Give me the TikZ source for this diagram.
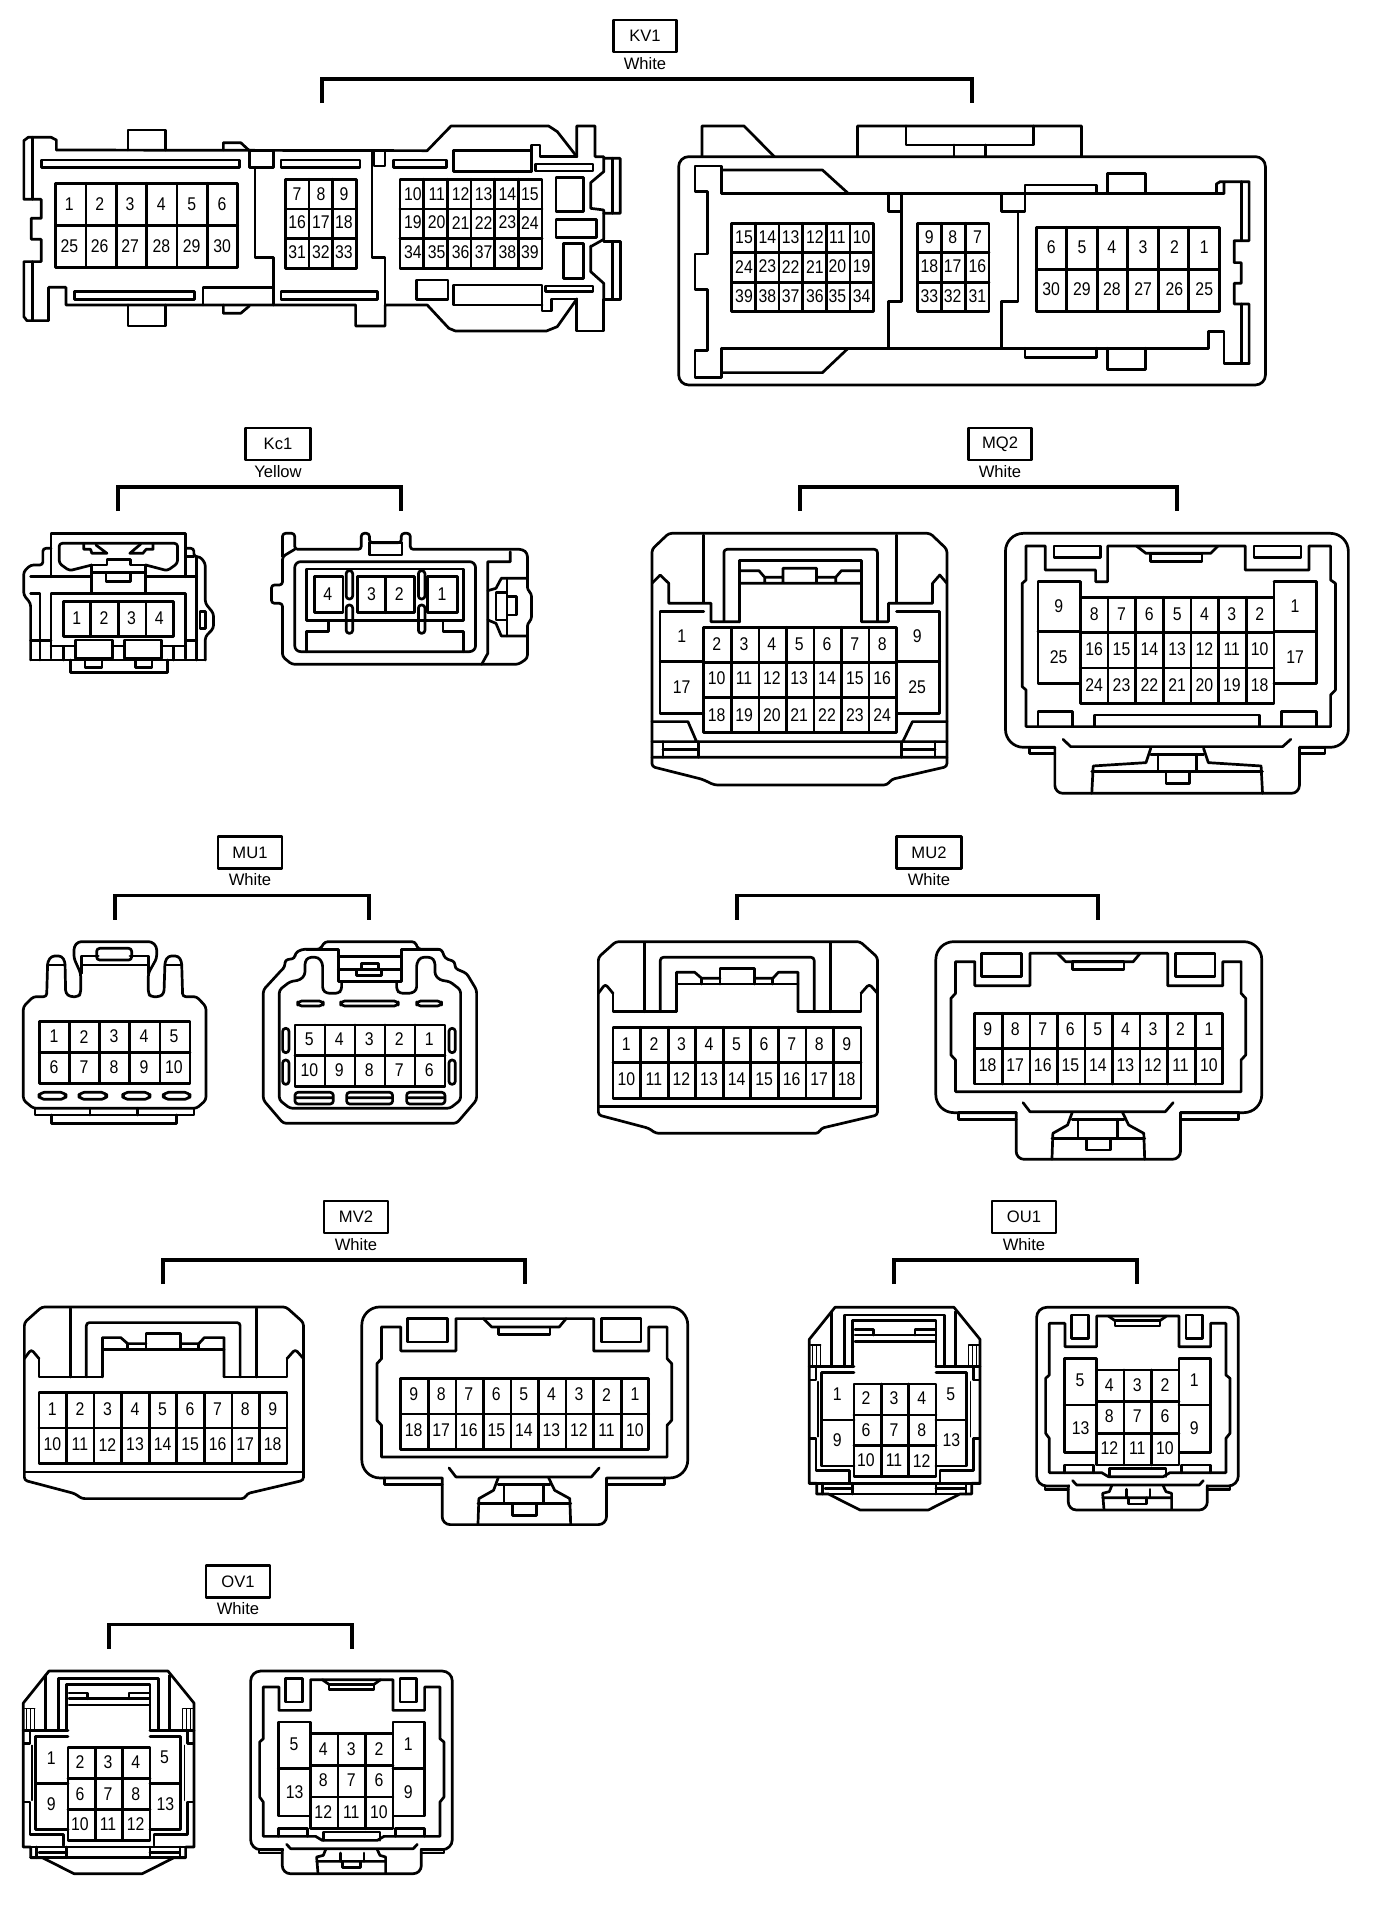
\documentclass[tikz,border=0pt]{standalone}
\usepackage{fontspec}
\setmainfont{Liberation Sans}
\newfontfamily\pinfont[FakeStretch=0.86]{Liberation Sans}
\usetikzlibrary{calc}
\tikzset{
  plan/.style={x=0.5pt,y=-0.5pt,line width=1.35pt,line join=round,line cap=round},
  zoomed/.style n args={4}{shift={(#1,#2)},xscale=#3,yscale=#4},
  pinlab/.style={inner sep=0pt,font=\pinfont\fontsize{9.2pt}{10pt}\selectfont},
  lbl/.style={draw,line width=1.35pt,inner sep=0pt,font=\fontsize{8.3pt}{10pt}\selectfont,anchor=center},
  colr/.style={inner sep=0pt,font=\fontsize{8.3pt}{10pt}\selectfont},
  brk/.style={line width=1.7pt,line join=miter,line cap=butt},
  fine/.style={line width=0.7pt},
  rd/.style={rounded corners=4pt},
  rs/.style={rounded corners=1.5pt},
  rl/.style={rounded corners=5pt},
  rx/.style={rounded corners=9pt}
}
\newcommand{\gridb}[6]{%
  \draw (#1,#2) rectangle (#3,#4);
  \foreach \iq in {1,...,#5}{\ifnum\iq<#5\relax\draw ({#1+(#3-#1)*\iq/#5},#2) -- ({#1+(#3-#1)*\iq/#5},#4);\fi}
  \foreach \iq in {1,...,#6}{\ifnum\iq<#6\relax\draw (#1,{#2+(#4-#2)*\iq/#6}) -- (#3,{#2+(#4-#2)*\iq/#6});\fi}
}
\newcommand{\pinrow}[2]{\foreach \xq/\tq in {#2}{\node[pinlab] (pin\tq) at (\xq,#1) {\tq};}}
\newcommand{\hdr}[7]{% name, colour, centre x, box centre y, box width, bracket left, bracket right
  \node[lbl,minimum width=#5*0.5pt,minimum height=16pt] (lbl#1) at (#3,#4) {#1};
  \node[colr] (col#1) at (#3,{#4+27.5}) {#2};
  \coordinate (bl#1) at (#6,{#4+67});
  \coordinate (br#1) at (#7,{#4+67});
  \draw[brk] (bl#1) -- ++(0,-24) -- ($(br#1)+(0,-24)$) -- (br#1);
}
% nine-way plug (face with latch arch)
\newcommand{\nineL}{%
  \draw[rs] (78,335) -- (610,335) -- (648,382) -- (648,855) -- (525,895) -- (520,910) -- (165,910) -- (150,895) -- (40,855) -- (40,382) -- cycle;
  \draw[rs] (140,545) -- (140,340) ; \draw[rs] (545,545) -- (545,340);
  \draw[rs] (175,545) -- (175,382) -- (510,382) -- (510,545);
  \draw (210,545) -- (210,427) -- (250,427) -- (265,445) -- (305,445);
  \draw (305,462) -- (305,415) -- (380,415) -- (380,462);
  \draw (380,445) -- (420,445) -- (432,427) -- (475,427) -- (475,545);
  \draw (210,462) -- (475,462) (265,445) -- (265,462) (420,445) -- (420,462);
  \draw (72,490) -- (72,545) -- (210,545) (475,545) -- (612,545) -- (612,490);
  \draw[rs] (40,490) -- (55,462) -- (72,490) (612,490) -- (630,462) -- (648,490);
  \gridb{72}{592}{612}{805}{9}{2}
  \draw (40,830) -- (648,830);
  \pinrow{642}{101/1,161/2,221/3,281/4,341/5,401/6,461/7,521/8,581/9}
  \pinrow{748}{101/10,161/11,221/12,281/13,341/14,401/15,461/16,521/17,581/18}
}
\newcommand{\nineR}{%
  \draw[rx] (775,600) -- (775,335) -- (1485,335) -- (1485,848) -- (775,848) -- cycle;
  \draw[fill=white,draw=white,line width=0pt] (950,840) rectangle (1308,856);
  \draw (825,848) -- (950,848) (1308,848) -- (1435,848);
  \draw (825,848) -- (825,868) -- (950,868) (1435,848) -- (1435,868) -- (1308,868);
  \draw[rd] (950,848) -- (950,988) -- (1308,988) -- (1308,848);
  \draw (818,395) -- (860,395) -- (860,467) -- (980,467) -- (980,370) -- (1280,370) -- (1280,467) -- (1400,467) -- (1400,395) -- (1440,395) -- (1440,490) -- (1450,505) -- (1450,675) -- (1440,690) -- (1440,785) -- (818,785) -- (818,690) -- (808,675) -- (808,505) -- (818,490) -- cycle;
  \draw (1040,370) -- (1058,395) -- (1205,395) -- (1220,370);
  \draw (875,370) rectangle (962,440) (1297,370) rectangle (1383,440) (1072,395) rectangle (1185,418);
  \gridb{860}{550}{1400}{762}{9}{2}
  \pinrow{598}{888/9,948/8,1008/7,1068/6,1128/5,1188/4,1248/3,1308/2,1370/1}
  \pinrow{705}{888/18,948/17,1008/16,1068/15,1128/14,1188/13,1248/12,1308/11,1370/10}
  \draw (965,818) -- (980,845) -- (1275,845) -- (1292,818);
  \draw (1072,848) -- (1062,885) -- (1030,910) -- (1028,988) (1182,848) -- (1195,885) -- (1228,910) -- (1230,988);
  \draw (1028,925) -- (1230,925) (1085,868) -- (1085,925) (1170,868) -- (1170,925) (1072,868) -- (1185,868);
  \draw (1103,925) rectangle (1155,960);
}
% thirteen-way plug
\newcommand{\thirtL}{%
  \draw (165,322) -- (522,322) -- (600,418) -- (600,850) -- (575,850) -- (575,882) -- (540,882) -- (445,930) -- (240,930) -- (145,882) -- (110,882) -- (110,850) -- (88,850) -- (88,418) -- cycle;
  \draw (155,335) -- (155,500) (527,335) -- (527,500);
  \draw (193,500) -- (193,345) -- (493,345) -- (493,500);
  \draw (218,500) -- (218,362) -- (468,362) -- (468,500);
  \draw (225,388) -- (280,388) -- (280,405) (465,388) -- (405,388) -- (405,405);
  \draw (225,405) -- (465,405) (225,424) -- (465,424);
  \draw[fine] (98,435) -- (98,500) (110,435) -- (110,500) (122,435) -- (122,500) (566,435) -- (566,500) (578,435) -- (578,500) (590,435) -- (590,500) (92,435) -- (122,435) (566,435) -- (596,435);
  \draw (88,500) -- (222,500) (468,500) -- (600,500);
  \draw (125,518) -- (222,518) (125,518) -- (125,798) -- (222,798) (125,660) -- (222,660);
  \draw (468,518) -- (560,518) -- (560,798) -- (468,798) (468,660) -- (560,660);
  \draw[fine] (114,545) -- (114,710) (572,545) -- (572,710);
  \draw (90,540) -- (108,540) -- (108,505) (90,715) -- (108,715) -- (108,812) -- (208,812) -- (208,845);
  \draw (598,540) -- (580,540) -- (580,505) (598,715) -- (580,715) -- (580,812) -- (480,812) -- (480,845);
  \gridb{222}{552}{468}{830}{3}{3}
  \pinrow{595}{258/2,342/3,425/4}
  \pinrow{690}{258/6,342/7,425/8}
  \pinrow{782}{258/10,342/11,425/12}
  \pinrow{582}{172/1,512/5}
  \pinrow{722}{172/9,514/13}
  \draw (88,850) -- (600,850) (110,882) -- (575,882);
  \draw (128,850) -- (128,882) (558,850) -- (558,882) (135,866) -- (218,866) (468,866) -- (555,866) (218,850) -- (218,882) (468,850) -- (468,882);
}
\newcommand{\thirtR}{%
  \draw[rl] (770,600) -- (770,322) -- (1375,322) -- (1375,858) -- (770,858) -- cycle;
  \draw[fill=white,draw=white,line width=0pt] (872,850) rectangle (1276,864);
  \draw (795,858) -- (865,858) (1282,858) -- (1350,858);
  \draw (795,858) -- (795,868) -- (865,868) (1350,858) -- (1350,868) -- (1282,868);
  \draw[rd] (865,858) -- (865,930) -- (1282,930) -- (1282,858);
  \draw (808,370) -- (855,370) -- (855,440) -- (950,440) -- (950,348) -- (1197,348) -- (1197,440) -- (1292,440) -- (1292,370) -- (1338,370) -- (1338,525) -- (1350,535) -- (1350,700) -- (1338,715) -- (1338,818) -- (1170,818) -- (1150,830) -- (985,830) -- (965,818) -- (808,818) -- (808,715) -- (797,700) -- (797,535) -- (808,525) -- cycle;
  \draw (985,348) -- (1005,362) (1160,348) -- (1140,362);
  \draw (875,345) rectangle (925,415) (1218,345) rectangle (1268,415) (1005,362) rectangle (1140,378);
  \draw (853,475) rectangle (950,757) (853,615) -- (950,615) (1197,475) rectangle (1292,757) (1197,615) -- (1292,615);
  \gridb{950}{510}{1197}{795}{3}{3}
  \pinrow{555}{988/4,1072/3,1155/2}
  \pinrow{650}{988/8,1072/7,1155/6}
  \pinrow{745}{988/12,1072/11,1155/10}
  \pinrow{542}{900/5,1243/1}
  \pinrow{685}{902/13,1243/9}
  \draw (853,818) -- (853,795) -- (940,795) -- (940,818) (1205,818) -- (1205,795) -- (1292,795) -- (1292,818) (988,830) -- (988,805) -- (1158,805) -- (1158,830);
  \draw (878,842) -- (890,855) -- (1258,855) -- (1270,842);
  \draw (995,858) -- (988,875) -- (968,880) -- (972,928) (1150,858) -- (1158,875) -- (1175,880) -- (1175,928) (968,893) -- (1175,893);
  \draw (1040,868) -- (1040,893) (1110,868) -- (1110,893) (1045,893) -- (1045,912) -- (1100,912) -- (1100,893);
}
\begin{document}
\begin{tikzpicture}[plan]
\useasboundingbox (0,0) rectangle (1392,1908);
% labels and brackets: name, colour, centre x, box y, box width, left, right
\hdr{KV1}{White}{645}{36}{63}{322}{972}
\hdr{Kc1}{Yellow}{278}{444}{65}{118}{401}
\hdr{MQ2}{White}{1000}{444}{63}{800}{1177}
\hdr{MU1}{White}{250}{852.5}{64}{115}{369}
\hdr{MU2}{White}{929}{852.5}{65}{737}{1098}
\hdr{MV2}{White}{356}{1217}{64}{163}{525}
\hdr{OU1}{White}{1024}{1217}{64}{894}{1137}
\hdr{OV1}{White}{238}{1581.5}{64}{109}{352}

% ---------- KV1 left ----------
\begin{scope}[zoomed={0}{0}{0.4337}{0.3333}]
  \draw (130,450) -- (130,420) -- (118,412) -- (65,412) -- (55,422) -- (55,598) -- (95,598) -- (95,655) -- (72,655) -- (72,718) -- (95,718) -- (95,785) -- (55,785) -- (55,950) -- (62,962) -- (112,962) -- (112,862) -- (152,862) -- (152,915) -- (820,915) -- (820,978) -- (888,978) -- (888,915) -- (985,915) -- (1035,985) -- (1050,993) -- (1260,993) -- (1285,980) -- (1330,897);
  \draw (75,412) -- (75,598) (75,785) -- (75,962);
  \draw (1330,897) -- (1330,993) -- (1392,993) -- (1392,898) -- (1430,898) -- (1430,725) -- (1392,725);
  \draw (1362,738) -- (1362,815) -- (1392,850) -- (1392,898);
  \draw (1412,725) -- (1412,898) (1412,475) -- (1412,640);
  \draw (1330,470) -- (1330,378) -- (1372,378) -- (1372,470) -- (1392,470) (1392,475) -- (1430,475) -- (1430,640) -- (1392,640) -- (1392,630) -- (1362,625) -- (1362,548) -- (1392,515) -- (1392,470);
  \draw (1392,640) -- (1392,718) -- (1362,740);
  \draw (130,450) -- (985,452) -- (1040,378) -- (1265,378) -- (1285,395) -- (1330,470);
  \draw (295,450) -- (295,390) -- (382,390) -- (382,450) (295,915) -- (295,978) -- (382,978) -- (382,915);
  \draw (515,450) -- (515,428) -- (555,428) -- (575,452) (515,915) -- (515,940) -- (555,940) -- (575,918);
  \draw (95,480) rectangle (552,502) (172,875) rectangle (448,898) (648,480) rectangle (830,502) (648,875) rectangle (870,898) (908,480) rectangle (1030,502) (1235,492) rectangle (1367,513) (1258,858) rectangle (1367,875);
  \draw (575,452) rectangle (630,502) (862,452) rectangle (888,498);
  \draw (588,502) -- (588,772) -- (630,772) -- (630,915) (858,452) -- (858,772) -- (888,772) -- (888,915);
  \draw (468,915) -- (468,862) -- (630,862);
  \draw (1225,515) -- (1045,515) -- (1045,452) -- (1225,452) (1225,515) -- (1225,435) -- (1245,435) -- (1245,470) -- (1330,470);
  \draw (960,840) rectangle (1033,898) (1250,915) -- (1045,915) -- (1045,855) -- (1250,855) -- (1250,933) -- (1272,933) -- (1272,897) -- (1330,897);
  \draw (1282,532) rectangle (1345,635) (1282,658) rectangle (1375,712) (1300,730) rectangle (1345,835);
  \gridb{128}{550}{548}{802}{6}{2}
  \pinrow{612}{160/1,230/2,300/3,372/4,442/5,512/6}
  \pinrow{738}{160/25,230/26,300/27,372/28,442/29,512/30}
  \gridb{658}{538}{822}{805}{3}{3}
  \pinrow{582}{685/7,740/8,793/9}
  \pinrow{668}{685/16,740/17,793/18}
  \pinrow{758}{685/31,740/32,793/33}
  \gridb{922}{538}{1250}{805}{6}{3}
  \pinrow{582}{952/10,1007/11,1062/12,1115/13,1170/14,1222/15}
  \pinrow{668}{952/19,1007/20,1062/21,1115/22,1170/23,1222/24}
  \pinrow{758}{952/34,1007/35,1062/36,1115/37,1170/38,1222/39}
\end{scope}
% ---------- KV1 right ----------
\begin{scope}[zoomed={660}{0}{0.4668}{0.3333}]
  \draw[rl] (40,800) -- (40,470) -- (1297,470) -- (1297,1155) -- (40,1155) -- cycle;
  \draw (90,470) -- (90,378) -- (180,378) -- (245,470) (423,470) -- (423,378) -- (903,378) -- (903,470);
  \draw (527,378) -- (527,435) -- (800,435) -- (800,378) (630,435) -- (630,470) (697,435) -- (697,470);
  \draw (132,510) -- (348,510) -- (403,580) (132,1118) -- (348,1118) -- (403,1045);
  \draw (132,580) -- (132,498) -- (75,498) -- (75,575) -- (102,575) -- (102,762) -- (75,762) -- (75,868) -- (102,868) -- (102,1052) -- (75,1052) -- (75,1132) -- (132,1132) -- (132,1045);
  \draw (132,580) -- (1208,580) (132,1045) -- (1175,1045) -- (1175,995) -- (1208,995) -- (1208,1090) -- (1262,1090);
  \draw (1208,580) -- (1208,545) (1192,580) -- (1192,552) -- (1200,545) -- (1262,545) -- (1262,722) -- (1230,722) -- (1230,788) -- (1245,788) -- (1245,850) -- (1230,850) -- (1230,912) -- (1262,912) -- (1262,1090);
  \draw (1245,545) -- (1245,722) (1245,912) -- (1245,1090);
  \draw (490,580) -- (490,635) -- (518,635) -- (518,905) -- (490,905) -- (490,1045) (518,580) -- (518,635);
  \draw (732,580) -- (732,635) -- (782,635) -- (782,555) -- (935,555) -- (935,580) (767,635) -- (767,905) -- (732,905) -- (732,1045);
  \draw (958,580) -- (958,520) -- (1040,520) -- (1040,580) (782,1045) -- (782,1072) -- (935,1072) -- (935,1045) (958,1045) -- (958,1108) -- (1040,1108) -- (1040,1045);
  \gridb{153}{670}{458}{935}{6}{3}
  \pinrow{712}{180/15,230/14,280/13,332/12,380/11,432/10}
  \pinrow{800}{180/24,230/23,280/22,332/21,380/20,432/19}
  \pinrow{888}{180/39,230/38,280/37,332/36,380/35,432/34}
  \gridb{552}{670}{705}{935}{3}{3}
  \pinrow{712}{577/9,627/8,680/7}
  \pinrow{800}{577/18,627/17,680/16}
  \pinrow{888}{577/33,627/32,680/31}
  \gridb{806}{682}{1198}{935}{6}{2}
  \pinrow{742}{838/6,904/5,968/4,1035/3,1102/2,1166/1}
  \pinrow{868}{838/30,904/29,968/28,1035/27,1102/26,1166/25}
\end{scope}
% ---------- Kc1 ----------
\begin{scope}[zoomed={0}{420}{0.4082}{0.3333}]
  \draw (125,470) -- (125,340) -- (455,340) -- (455,470);
  \draw[rs] (225,435) -- (170,452) -- (145,430) -- (145,370) -- (435,370) -- (435,430) -- (410,452) -- (357,435);
  \draw (225,435) -- (262,435) -- (262,418) -- (320,418) -- (320,435) -- (357,435);
  \draw (205,370) -- (205,388) -- (222,388) -- (225,400) -- (262,400) -- (235,375) (375,370) -- (375,388) -- (358,388) -- (350,400) -- (318,400) -- (345,372);
  \draw (225,435) -- (225,515) (357,435) -- (357,515) (225,458) -- (357,458);
  \draw (260,462) -- (260,485) -- (320,485) -- (320,462);
  \draw[rs] (125,385) -- (105,385) -- (105,435) -- (75,435) -- (58,455) -- (58,525) -- (75,550) -- (75,720);
  \draw (75,470) -- (220,470) (75,520) -- (98,520) -- (98,720) (75,662) -- (125,662);
  \draw[rs] (455,385) -- (475,385) -- (475,410) -- (490,410) -- (503,430) -- (503,550) -- (523,580) -- (523,625) -- (503,650) -- (503,720);
  \draw (455,410) -- (475,410) (360,470) -- (482,470) (482,410) -- (482,720) (490,575) rectangle (503,625) (482,662) -- (455,662);
  \draw (75,720) -- (503,720) (125,715) -- (125,520) -- (455,520) -- (455,715);
  \gridb{155}{545}{425}{650}{4}{1}
  \pinrow{595}{188/1,255/2,322/3,390/4}
  \draw (185,660) rectangle (275,715) (305,660) rectangle (395,715) (155,680) -- (155,720) (425,680) -- (425,720) (125,678) -- (185,678) (275,678) -- (305,678) (395,678) -- (455,678);
  \draw (172,720) -- (172,757) -- (410,757) -- (410,720) (208,720) -- (208,742) -- (250,742) -- (250,720) (332,720) -- (332,742) -- (372,742) -- (372,720);
  % right
  \draw[rs] (722,388) -- (692,410) -- (692,495) -- (665,495) -- (665,550) -- (692,550) -- (692,710) -- (715,733) -- (1270,733) -- (1292,715) -- (1292,610) -- (1302,600) -- (1302,520) -- (1292,510) -- (1292,400) -- (1280,388) -- (1005,388) -- (1005,340) -- (983,340) -- (983,368) -- (905,368) -- (905,340) -- (885,340) -- (885,388) -- (722,388) -- (722,340) -- (692,340) -- (692,410);
  \draw (905,368) rectangle (985,405);
  \draw[rounded corners=3pt] (722,425) rectangle (1165,695);
  \draw (750,447) rectangle (1135,602);
  \draw (805,602) -- (805,635) -- (750,635) -- (750,695) (1085,602) -- (1085,635) -- (1135,635) -- (1135,695);
  \foreach \cx/\cy in {848/452,848/555,1025/452,1025/555}{\draw[rs] (\cx,\cy) rectangle ({\cx+16},{\cy+85});}
  \draw (770,470) rectangle (840,578) (1048,470) rectangle (1120,578);
  \gridb{875}{470}{1015}{578}{2}{1}
  \pinrow{522}{803/4,910/3,978/2,1083/1}
  \draw (1250,395) -- (1250,425) -- (1195,425) -- (1195,700) -- (1180,733);
  \draw (1195,512) -- (1215,505) -- (1228,475) -- (1292,475) (1195,600) -- (1215,610) -- (1228,648) -- (1292,648);
  \draw (1215,518) rectangle (1242,600) (1242,530) rectangle (1265,585) (1242,475) -- (1242,648);
\end{scope}
% ---------- MQ2 ----------
\begin{scope}[zoomed={640}{420}{0.4796}{0.3333}]
  \draw[rs] (60,340) -- (605,340) -- (640,388) -- (640,1040) -- (525,1078) -- (515,1095) -- (155,1095) -- (130,1078) -- (25,1040) -- (25,388) -- cycle;
  \draw (133,545) -- (133,345) (535,545) -- (535,345);
  \draw[rs] (175,605) -- (175,388) -- (495,388) -- (495,605);
  \draw (208,605) -- (208,422) -- (462,422) -- (462,605);
  \draw (208,452) -- (248,452) -- (260,472) -- (298,472) (298,490) -- (298,445) -- (368,445) -- (368,490) (368,472) -- (408,472) -- (420,452) -- (462,452) (208,490) -- (462,490) (260,472) -- (260,490) (408,472) -- (408,490);
  \draw (208,605) -- (148,605) -- (148,550) -- (60,550) -- (60,490) -- (42,465) -- (25,490);
  \draw (462,605) -- (518,605) -- (518,550) -- (610,550) -- (610,490) -- (625,465) -- (640,490);
  \draw (133,575) -- (42,575) -- (42,880) -- (133,880) (42,725) -- (133,725);
  \draw (535,575) -- (625,575) -- (625,880) -- (535,880) (535,725) -- (625,725);
  \gridb{133}{622}{535}{938}{7}{3}
  \pinrow{672}{160/2,217/3,275/4,332/5,390/6,448/7,505/8}
  \pinrow{775}{160/10,217/11,275/12,332/13,390/14,448/15,505/16}
  \pinrow{885}{160/18,217/19,275/20,332/21,390/22,448/23,505/24}
  \pinrow{648}{87/1,578/9}
  \pinrow{802}{87/17,578/25}
  \draw (25,905) -- (100,905) -- (118,965) (640,905) -- (568,905) -- (548,965) (25,965) -- (640,965) (25,1012) -- (640,1012);
  \draw (48,965) -- (48,1012) (122,965) -- (122,1012) (48,988) -- (122,988) (545,965) -- (545,1012) (615,965) -- (615,1012) (545,988) -- (615,988);
  % right
  \draw[rx] (762,650) -- (762,340) -- (1477,340) -- (1477,982) -- (762,982) -- cycle;
  \draw[fill=white,draw=white,line width=0pt] (867,974) rectangle (1373,990);
  \draw (812,982) -- (865,982) (1375,982) -- (1428,982);
  \draw (812,982) -- (812,1000) -- (865,1000) (1428,982) -- (1428,1000) -- (1375,1000);
  \draw[rd] (865,982) -- (865,1120) -- (1375,1120) -- (1375,982);
  \draw (805,378) -- (845,378) -- (845,450) -- (950,450) -- (950,485) -- (975,485) -- (975,378) -- (1262,378) -- (1262,450) -- (1395,450) -- (1395,378) -- (1440,378) -- (1440,480) -- (1450,490) -- (1450,810) -- (1440,825) -- (1440,920) -- (805,920) -- (805,810) -- (797,800) -- (797,490) -- (805,480) -- cycle;
  \draw (1035,378) -- (1055,400) -- (1190,400) -- (1205,378);
  \draw (863,378) rectangle (960,412) (1280,378) rectangle (1378,412) (1065,400) rectangle (1172,425);
  \draw (918,485) -- (830,485) -- (830,790) -- (918,790) (830,635) -- (918,635) (1322,485) -- (1410,485) -- (1410,790) -- (1322,790) (1322,635) -- (1410,635) (918,485) -- (918,532) (1322,485) -- (1322,532);
  \gridb{918}{532}{1322}{850}{7}{3}
  \pinrow{582}{947/8,1004/7,1062/6,1120/5,1177/4,1234/3,1292/2}
  \pinrow{688}{947/16,1004/15,1062/14,1120/13,1177/12,1234/11,1292/10}
  \pinrow{795}{947/24,1004/23,1062/22,1120/21,1177/20,1234/19,1292/18}
  \pinrow{558}{873/9,1366/1}
  \pinrow{712}{873/25,1366/17}
  \draw (830,920) -- (830,875) -- (902,875) -- (902,920) (948,920) -- (948,885) -- (1292,885) -- (1292,920) (1338,920) -- (1338,875) -- (1410,875) -- (1410,920);
  \draw (882,958) -- (898,980) -- (1340,980) -- (1357,958);
  \draw (1065,985) -- (1055,1028) -- (945,1038) -- (942,1120) (1175,985) -- (1185,1028) -- (1295,1038) -- (1298,1120);
  \draw (942,1055) -- (1298,1055) (1080,1003) -- (1080,1055) (1160,1003) -- (1160,1055) (1065,1003) -- (1175,1003) (1097,1055) rectangle (1145,1090);
\end{scope}
% ---------- MU1 ----------
\begin{scope}[zoomed={0}{830}{0.3333}{0.3333}]
  \draw[rs] (70,530) -- (100,500) -- (140,500) -- (143,395) -- (155,378) -- (185,378) -- (195,395) -- (197,490) -- (210,500) -- (235,500) -- (242,490) -- (242,430) -- (222,385) -- (222,350) -- (235,335) -- (455,335) -- (470,350) -- (470,385) -- (445,430) -- (445,490) -- (452,500) -- (480,500) -- (492,490) -- (495,395) -- (505,378) -- (535,378) -- (545,395) -- (548,500) -- (590,500) -- (618,530) -- (618,810) -- (590,835) -- (100,835) -- (70,810) -- cycle;
  \draw (245,430) -- (245,378) -- (295,378) (390,378) -- (445,378) -- (445,430) (245,405) -- (445,405) (145,405) -- (195,405) (495,405) -- (545,405);
  \draw[rs] (290,355) rectangle (395,390);
  \gridb{118}{575}{570}{760}{5}{2}
  \pinrow{620}{162/1,252/2,342/3,432/4,522/5}
  \pinrow{712}{162/6,252/7,342/8,432/9,522/10}
  \foreach \xa/\xb in {117/198,237/320,368/450,490/570}{\draw[rounded corners=2.5pt] (\xa,787) rectangle (\xb,808);}
  \draw (105,835) -- (105,855) -- (582,855) -- (582,835) (270,835) -- (270,855) (413,835) -- (413,855) (155,855) -- (155,880) -- (530,880) -- (530,855);
  % right
  \draw[rs] (790,480) -- (845,420) -- (855,410) -- (855,390) -- (885,385) -- (885,370) -- (905,358) -- (960,358) -- (975,335) -- (1245,335) -- (1255,358) -- (1325,358) -- (1335,385) -- (1365,395) -- (1365,415) -- (1400,430) -- (1430,480) -- (1430,810) -- (1370,880) -- (850,880) -- (790,810) -- cycle;
  \draw[rs] (1025,455) -- (1025,480) -- (1015,490) -- (980,490) -- (968,480) -- (968,400) -- (955,382) -- (925,382) -- (915,395) -- (915,435) -- (900,450) -- (870,455) -- (838,480) -- (838,810) -- (870,835) -- (1350,835) -- (1382,810) -- (1382,480) -- (1350,455) -- (1320,450) -- (1305,435) -- (1305,395) -- (1295,382) -- (1262,382) -- (1250,400) -- (1250,480) -- (1235,490) -- (1200,490) -- (1190,480) -- (1190,455);
  \draw (920,358) -- (1015,358) -- (1015,455) -- (1205,455) -- (1205,358) -- (1320,358) (1015,380) -- (1205,380) (1015,418) -- (1205,418);
  \draw (1085,400) rectangle (1135,420) (1070,420) rectangle (1145,437);
  \foreach \xa/\xb in {893/970,1022/1195,1250/1325}{\draw[rounded corners=2pt] (\xa,513) rectangle (\xb,528);}
  \gridb{885}{585}{1335}{770}{5}{2}
  \pinrow{628}{928/5,1018/4,1108/3,1198/2,1288/1}
  \pinrow{722}{928/10,1018/9,1108/8,1198/7,1288/6}
  \foreach \xa/\ya in {848/595,848/690,1347/595,1347/690}{\draw[rs] (\xa,\ya) rectangle ({\xa+19},{\ya+73});}
  \foreach \xa/\xb in {885/1000,1040/1178,1220/1335}{\draw[rs] (\xa,787) rectangle (\xb,822) (\xa,803) -- (\xb,803);}
\end{scope}
% ---------- MU2 / MV2 ----------
\begin{scope}[zoomed={580}{830}{0.4591}{0.3333}] \nineL \nineR \end{scope}
\begin{scope}[zoomed={6}{1195.3}{0.4591}{0.3333}] \nineL \nineR \end{scope}
% ---------- OU1 / OV1 ----------
\begin{scope}[zoomed={780}{1200}{0.3333}{0.3333}] \thirtL \thirtR \end{scope}
\begin{scope}[zoomed={-6}{1563.7}{0.3333}{0.3333}] \thirtL \thirtR \end{scope}
\end{tikzpicture}
\end{document}
